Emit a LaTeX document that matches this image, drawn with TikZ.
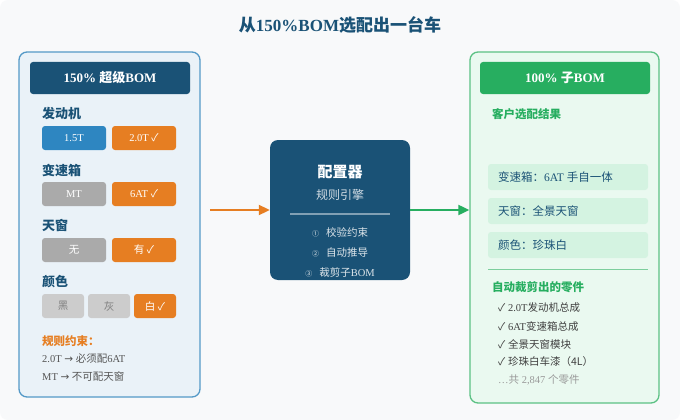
\documentclass[tikz,border=0pt]{standalone}
\usepackage{fontspec}
\setmainfont{Liberation Serif}
\newfontfamily\cjk{Noto Sans CJK SC}
\newfontfamily\sym{DejaVu Sans}
\newcommand\zh[1]{{\cjk #1}}
\newcommand\ck{{\cjk\char"2713}}
\newcommand\ar{{\sym\char"2192}}
\usetikzlibrary{arrows.meta}
\definecolor{navy}{HTML}{1A5276}
\definecolor{cblue}{HTML}{2E86C1}
\definecolor{corange}{HTML}{E67E22}
\definecolor{cgray}{HTML}{AAAAAA}
\definecolor{clgray}{HTML}{CCCCCC}
\definecolor{cgreen}{HTML}{27AE60}
\definecolor{lpanel}{HTML}{EAF2F8}
\definecolor{lborder}{HTML}{5499C7}
\definecolor{rpanel}{HTML}{EAF9F0}
\definecolor{rborder}{HTML}{5CC184}
\definecolor{ritem}{HTML}{D4F3E1}
\definecolor{bg}{HTML}{F8F9FA}
\definecolor{txt}{HTML}{555555}
\begin{document}
\begin{tikzpicture}[x=1pt,y=-1pt,
  btn/.style={rounded corners=3pt, minimum height=24pt, text=white, inner sep=0pt,
    font=\fontsize{10.5}{12}\selectfont},
  lab/.style={anchor=west, inner sep=0pt, text=navy, font=\fontsize{13}{15}\selectfont\cjk\bfseries},
  small/.style={anchor=west, inner sep=0pt, text=txt, font=\fontsize{10.5}{12}\selectfont},
  item/.style={rounded corners=3pt, fill=ritem, minimum width=160pt, minimum height=26pt, inner sep=0pt},
  itemtxt/.style={anchor=west, inner sep=0pt, text=navy, font=\fontsize{11.5}{13}\selectfont},
  eng/.style={inner sep=0pt, text=white!85!navy, font=\fontsize{10.5}{12}\selectfont},
  panel/.style={line width=1.3pt, rounded corners=8pt, inner sep=0pt}]
\useasboundingbox (0,0) rectangle (680,420);
\fill[white] (0,0) rectangle (680,420);
\fill[bg, rounded corners=8pt] (0,0) rectangle (680,420);

\node[text=navy, font=\fontsize{17}{19}\selectfont\bfseries] (title) at (340,25)
  {\zh{从}150\%BOM\zh{选配出一台车}};

% left panel
\node[panel, draw=lborder, fill=lpanel, minimum width=181pt, minimum height=345pt] (lpan) at (109.5,224.5) {};
\node[fill=navy, rounded corners=3pt, minimum width=160pt, minimum height=32pt, inner sep=0pt,
  text=white, font=\fontsize{13}{15}\selectfont\bfseries] (lhead) at (110,78) {150\% \zh{超级}BOM};

\node[lab] (l1) at (42,114) {发动机};
\node[btn, fill=cblue, minimum width=64pt] (b1a) at (74,138) {1.5T};
\node[btn, fill=corange, minimum width=64pt] (b1b) at (144,138) {2.0T \ck};

\node[lab] (l2) at (42,170) {变速箱};
\node[btn, fill=cgray, minimum width=64pt] (b2a) at (74,194) {MT};
\node[btn, fill=corange, minimum width=64pt] (b2b) at (144,194) {6AT \ck};

\node[lab] (l3) at (42,226) {天窗};
\node[btn, fill=cgray, minimum width=64pt] (b3a) at (74,250) {\zh{无}};
\node[btn, fill=corange, minimum width=64pt] (b3b) at (144,250) {\zh{有} \ck};

\node[lab] (l4) at (42,282) {颜色};
\node[btn, fill=clgray, text=gray, minimum width=42pt] (b4a) at (63,306) {\zh{黑}};
\node[btn, fill=clgray, text=gray, minimum width=42pt] (b4b) at (109,306) {\zh{灰}};
\node[btn, fill=corange, minimum width=42pt] (b4c) at (155,306) {\zh{白} \ck};

\node[lab, text=corange, font=\fontsize{11.5}{13}\selectfont\cjk\bfseries] (rule) at (42,341) {规则约束：};
\node[small] (r1) at (42,359) {2.0T \ar{} \zh{必须配}6AT};
\node[small] (r2) at (42,376) {MT \ar{} \zh{不可配天窗}};

% center box
\node[fill=navy, rounded corners=8pt, minimum width=140pt, minimum height=140pt, inner sep=0pt] (conf) at (340,210) {};
\node[text=white, font=\fontsize{15}{17}\selectfont\cjk\bfseries] (ct) at (340,172) {配置器};
\node[text=white!80!navy, font=\fontsize{12}{14}\selectfont\cjk] (cs) at (340,195) {规则引擎};
\coordinate (sl) at (290,214);
\coordinate (sr) at (390,214);
\draw[white!45!navy, line width=1.5pt] (sl) -- (sr);
\node[eng] (s1) at (340,232) {\zh{\fontsize{7}{8}\selectfont ①}\hspace{7pt}\zh{校验约束}};
\node[eng] (s2) at (340,253) {\zh{\fontsize{7}{8}\selectfont ②}\hspace{7pt}\zh{自动推导}};
\node[eng] (s3) at (340,273) {\zh{\fontsize{7}{8}\selectfont ③}\hspace{7pt}\zh{裁剪子}BOM};

% right panel
\node[panel, draw=rborder, fill=rpanel, minimum width=189pt, minimum height=351pt] (rpan) at (564.5,227.5) {};
\node[fill=cgreen, rounded corners=3pt, minimum width=170pt, minimum height=32pt, inner sep=0pt,
  text=white, font=\fontsize{13}{15}\selectfont\bfseries] (rhead) at (565,78) {100\% \zh{子}BOM};
\node[lab, text=cgreen, font=\fontsize{11.5}{13}\selectfont\cjk\bfseries] (rsel) at (492,114) {客户选配结果};

\node[item] (i1) at (568,177) {};
\node[itemtxt] (i1t) at (498,177) {\zh{变速箱：}6AT \zh{手自一体}};
\node[item] (i2) at (568,211) {};
\node[itemtxt] (i2t) at (498,211) {\zh{天窗：全景天窗}};
\node[item] (i3) at (568,245) {};
\node[itemtxt] (i3t) at (498,245) {\zh{颜色：珍珠白}};

\coordinate (dl) at (488,269.5);
\coordinate (dr) at (648,269.5);
\draw[rborder!80!white, line width=1.5pt] (dl) -- (dr);
\node[lab, text=cgreen, font=\fontsize{11.5}{13}\selectfont\cjk\bfseries] (rcut) at (492,287) {自动裁剪出的零件};
\node[small, text=black!75] (p1) at (498,308) {\ck{} 2.0T\zh{发动机总成}};
\node[small, text=black!75] (p2) at (498,326) {\ck{} 6AT\zh{变速箱总成}};
\node[small, text=black!75] (p3) at (498,344) {\ck{} \zh{全景天窗模块}};
\node[small, text=black!75] (p4) at (498,362) {\ck{} \zh{珍珠白车漆（4L）}};
\node[small, text=black!40] (p5) at (498,380) {…\zh{共} 2,847 \zh{个零件}};

% arrows
\coordinate (a1) at (210,210);
\draw[corange, line width=2pt, -{Triangle[length=11pt,width=10pt]}] (a1) -- (conf.west);
\draw[cgreen, line width=2pt, -{Triangle[length=11pt,width=10pt]}] (conf.east) -- (conf.east -| rpan.west);
\end{tikzpicture}
\end{document}
